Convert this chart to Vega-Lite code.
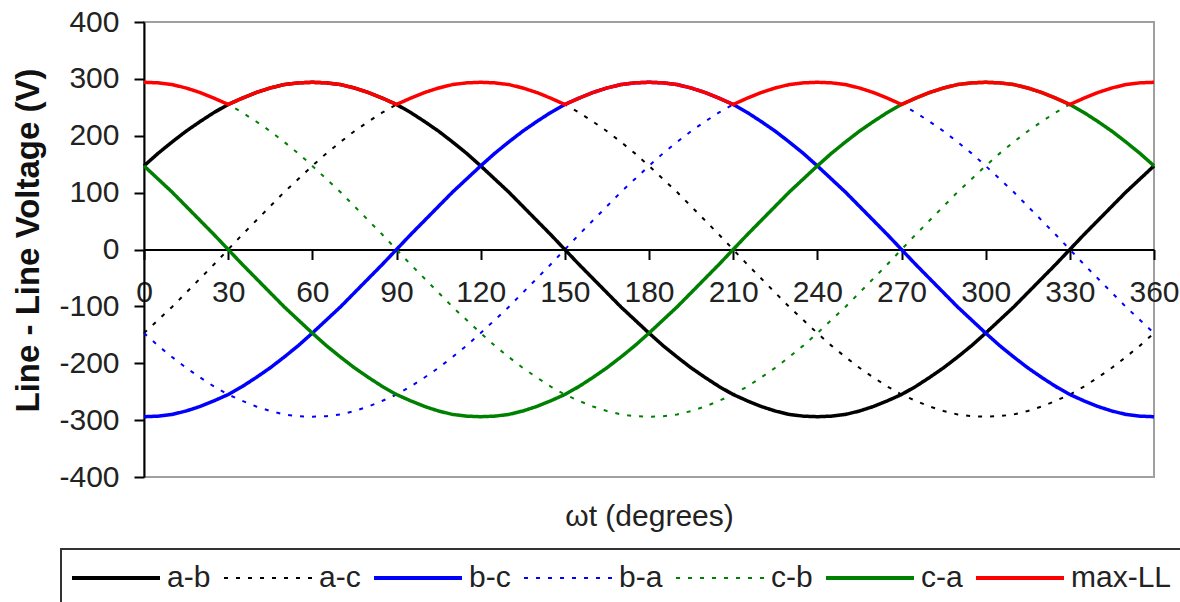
{
  "$schema": "https://vega.github.io/schema/vega-lite/v6.json",
  "width": 1010,
  "height": 455,
  "autosize": {"type": "none"},
  "padding": {"left": 144, "top": 22, "right": 26, "bottom": 125},
  "background": "white",
  "config": {
    "font": "Liberation Sans",
    "view": {"stroke": "#a0a0a0", "strokeWidth": 2}
  },
  "data": {
    "values": [
      {"s":"a-b","t":0,"v":147},{"s":"a-b","t":5,"v":169},{"s":"a-b","t":10,"v":189},{"s":"a-b","t":15,"v":208},{"s":"a-b","t":20,"v":225},{"s":"a-b","t":25,"v":241},{"s":"a-b","t":30,"v":255},{"s":"a-b","t":35,"v":266},{"s":"a-b","t":40,"v":276},{"s":"a-b","t":45,"v":284},{"s":"a-b","t":50,"v":290},{"s":"a-b","t":55,"v":293},{"s":"a-b","t":60,"v":294},{"s":"a-b","t":65,"v":293},{"s":"a-b","t":70,"v":290},{"s":"a-b","t":75,"v":284},{"s":"a-b","t":80,"v":276},{"s":"a-b","t":85,"v":266},{"s":"a-b","t":90,"v":255},{"s":"a-b","t":95,"v":241},{"s":"a-b","t":100,"v":225},{"s":"a-b","t":105,"v":208},{"s":"a-b","t":110,"v":189},{"s":"a-b","t":115,"v":169},{"s":"a-b","t":120,"v":147},{"s":"a-b","t":125,"v":124},{"s":"a-b","t":130,"v":101},{"s":"a-b","t":135,"v":76},{"s":"a-b","t":140,"v":51},{"s":"a-b","t":145,"v":26},{"s":"a-b","t":150,"v":0},{"s":"a-b","t":155,"v":-26},{"s":"a-b","t":160,"v":-51},{"s":"a-b","t":165,"v":-76},{"s":"a-b","t":170,"v":-101},{"s":"a-b","t":175,"v":-124},{"s":"a-b","t":180,"v":-147},{"s":"a-b","t":185,"v":-169},{"s":"a-b","t":190,"v":-189},{"s":"a-b","t":195,"v":-208},{"s":"a-b","t":200,"v":-225},{"s":"a-b","t":205,"v":-241},{"s":"a-b","t":210,"v":-255},{"s":"a-b","t":215,"v":-266},{"s":"a-b","t":220,"v":-276},{"s":"a-b","t":225,"v":-284},{"s":"a-b","t":230,"v":-290},{"s":"a-b","t":235,"v":-293},{"s":"a-b","t":240,"v":-294},{"s":"a-b","t":245,"v":-293},{"s":"a-b","t":250,"v":-290},{"s":"a-b","t":255,"v":-284},{"s":"a-b","t":260,"v":-276},{"s":"a-b","t":265,"v":-266},{"s":"a-b","t":270,"v":-255},{"s":"a-b","t":275,"v":-241},{"s":"a-b","t":280,"v":-225},{"s":"a-b","t":285,"v":-208},{"s":"a-b","t":290,"v":-189},{"s":"a-b","t":295,"v":-169},{"s":"a-b","t":300,"v":-147},{"s":"a-b","t":305,"v":-124},{"s":"a-b","t":310,"v":-101},{"s":"a-b","t":315,"v":-76},{"s":"a-b","t":320,"v":-51},{"s":"a-b","t":325,"v":-26},{"s":"a-b","t":330,"v":0},{"s":"a-b","t":335,"v":26},{"s":"a-b","t":340,"v":51},{"s":"a-b","t":345,"v":76},{"s":"a-b","t":350,"v":101},{"s":"a-b","t":355,"v":124},{"s":"a-b","t":360,"v":147},

      {"s":"a-c","t":0,"v":-147},{"s":"a-c","t":5,"v":-124},{"s":"a-c","t":10,"v":-101},{"s":"a-c","t":15,"v":-76},{"s":"a-c","t":20,"v":-51},{"s":"a-c","t":25,"v":-26},{"s":"a-c","t":30,"v":0},{"s":"a-c","t":35,"v":26},{"s":"a-c","t":40,"v":51},{"s":"a-c","t":45,"v":76},{"s":"a-c","t":50,"v":101},{"s":"a-c","t":55,"v":124},{"s":"a-c","t":60,"v":147},{"s":"a-c","t":65,"v":169},{"s":"a-c","t":70,"v":189},{"s":"a-c","t":75,"v":208},{"s":"a-c","t":80,"v":225},{"s":"a-c","t":85,"v":241},{"s":"a-c","t":90,"v":255},{"s":"a-c","t":95,"v":266},{"s":"a-c","t":100,"v":276},{"s":"a-c","t":105,"v":284},{"s":"a-c","t":110,"v":290},{"s":"a-c","t":115,"v":293},{"s":"a-c","t":120,"v":294},{"s":"a-c","t":125,"v":293},{"s":"a-c","t":130,"v":290},{"s":"a-c","t":135,"v":284},{"s":"a-c","t":140,"v":276},{"s":"a-c","t":145,"v":266},{"s":"a-c","t":150,"v":255},{"s":"a-c","t":155,"v":241},{"s":"a-c","t":160,"v":225},{"s":"a-c","t":165,"v":208},{"s":"a-c","t":170,"v":189},{"s":"a-c","t":175,"v":169},{"s":"a-c","t":180,"v":147},{"s":"a-c","t":185,"v":124},{"s":"a-c","t":190,"v":101},{"s":"a-c","t":195,"v":76},{"s":"a-c","t":200,"v":51},{"s":"a-c","t":205,"v":26},{"s":"a-c","t":210,"v":0},{"s":"a-c","t":215,"v":-26},{"s":"a-c","t":220,"v":-51},{"s":"a-c","t":225,"v":-76},{"s":"a-c","t":230,"v":-101},{"s":"a-c","t":235,"v":-124},{"s":"a-c","t":240,"v":-147},{"s":"a-c","t":245,"v":-169},{"s":"a-c","t":250,"v":-189},{"s":"a-c","t":255,"v":-208},{"s":"a-c","t":260,"v":-225},{"s":"a-c","t":265,"v":-241},{"s":"a-c","t":270,"v":-255},{"s":"a-c","t":275,"v":-266},{"s":"a-c","t":280,"v":-276},{"s":"a-c","t":285,"v":-284},{"s":"a-c","t":290,"v":-290},{"s":"a-c","t":295,"v":-293},{"s":"a-c","t":300,"v":-294},{"s":"a-c","t":305,"v":-293},{"s":"a-c","t":310,"v":-290},{"s":"a-c","t":315,"v":-284},{"s":"a-c","t":320,"v":-276},{"s":"a-c","t":325,"v":-266},{"s":"a-c","t":330,"v":-255},{"s":"a-c","t":335,"v":-241},{"s":"a-c","t":340,"v":-225},{"s":"a-c","t":345,"v":-208},{"s":"a-c","t":350,"v":-189},{"s":"a-c","t":355,"v":-169},{"s":"a-c","t":360,"v":-147},

      {"s":"b-c","t":0,"v":-294},{"s":"b-c","t":5,"v":-293},{"s":"b-c","t":10,"v":-290},{"s":"b-c","t":15,"v":-284},{"s":"b-c","t":20,"v":-276},{"s":"b-c","t":25,"v":-266},{"s":"b-c","t":30,"v":-255},{"s":"b-c","t":35,"v":-241},{"s":"b-c","t":40,"v":-225},{"s":"b-c","t":45,"v":-208},{"s":"b-c","t":50,"v":-189},{"s":"b-c","t":55,"v":-169},{"s":"b-c","t":60,"v":-147},{"s":"b-c","t":65,"v":-124},{"s":"b-c","t":70,"v":-101},{"s":"b-c","t":75,"v":-76},{"s":"b-c","t":80,"v":-51},{"s":"b-c","t":85,"v":-26},{"s":"b-c","t":90,"v":0},{"s":"b-c","t":95,"v":26},{"s":"b-c","t":100,"v":51},{"s":"b-c","t":105,"v":76},{"s":"b-c","t":110,"v":101},{"s":"b-c","t":115,"v":124},{"s":"b-c","t":120,"v":147},{"s":"b-c","t":125,"v":169},{"s":"b-c","t":130,"v":189},{"s":"b-c","t":135,"v":208},{"s":"b-c","t":140,"v":225},{"s":"b-c","t":145,"v":241},{"s":"b-c","t":150,"v":255},{"s":"b-c","t":155,"v":266},{"s":"b-c","t":160,"v":276},{"s":"b-c","t":165,"v":284},{"s":"b-c","t":170,"v":290},{"s":"b-c","t":175,"v":293},{"s":"b-c","t":180,"v":294},{"s":"b-c","t":185,"v":293},{"s":"b-c","t":190,"v":290},{"s":"b-c","t":195,"v":284},{"s":"b-c","t":200,"v":276},{"s":"b-c","t":205,"v":266},{"s":"b-c","t":210,"v":255},{"s":"b-c","t":215,"v":241},{"s":"b-c","t":220,"v":225},{"s":"b-c","t":225,"v":208},{"s":"b-c","t":230,"v":189},{"s":"b-c","t":235,"v":169},{"s":"b-c","t":240,"v":147},{"s":"b-c","t":245,"v":124},{"s":"b-c","t":250,"v":101},{"s":"b-c","t":255,"v":76},{"s":"b-c","t":260,"v":51},{"s":"b-c","t":265,"v":26},{"s":"b-c","t":270,"v":0},{"s":"b-c","t":275,"v":-26},{"s":"b-c","t":280,"v":-51},{"s":"b-c","t":285,"v":-76},{"s":"b-c","t":290,"v":-101},{"s":"b-c","t":295,"v":-124},{"s":"b-c","t":300,"v":-147},{"s":"b-c","t":305,"v":-169},{"s":"b-c","t":310,"v":-189},{"s":"b-c","t":315,"v":-208},{"s":"b-c","t":320,"v":-225},{"s":"b-c","t":325,"v":-241},{"s":"b-c","t":330,"v":-255},{"s":"b-c","t":335,"v":-266},{"s":"b-c","t":340,"v":-276},{"s":"b-c","t":345,"v":-284},{"s":"b-c","t":350,"v":-290},{"s":"b-c","t":355,"v":-293},{"s":"b-c","t":360,"v":-294},

      {"s":"b-a","t":0,"v":-147},{"s":"b-a","t":5,"v":-169},{"s":"b-a","t":10,"v":-189},{"s":"b-a","t":15,"v":-208},{"s":"b-a","t":20,"v":-225},{"s":"b-a","t":25,"v":-241},{"s":"b-a","t":30,"v":-255},{"s":"b-a","t":35,"v":-266},{"s":"b-a","t":40,"v":-276},{"s":"b-a","t":45,"v":-284},{"s":"b-a","t":50,"v":-290},{"s":"b-a","t":55,"v":-293},{"s":"b-a","t":60,"v":-294},{"s":"b-a","t":65,"v":-293},{"s":"b-a","t":70,"v":-290},{"s":"b-a","t":75,"v":-284},{"s":"b-a","t":80,"v":-276},{"s":"b-a","t":85,"v":-266},{"s":"b-a","t":90,"v":-255},{"s":"b-a","t":95,"v":-241},{"s":"b-a","t":100,"v":-225},{"s":"b-a","t":105,"v":-208},{"s":"b-a","t":110,"v":-189},{"s":"b-a","t":115,"v":-169},{"s":"b-a","t":120,"v":-147},{"s":"b-a","t":125,"v":-124},{"s":"b-a","t":130,"v":-101},{"s":"b-a","t":135,"v":-76},{"s":"b-a","t":140,"v":-51},{"s":"b-a","t":145,"v":-26},{"s":"b-a","t":150,"v":0},{"s":"b-a","t":155,"v":26},{"s":"b-a","t":160,"v":51},{"s":"b-a","t":165,"v":76},{"s":"b-a","t":170,"v":101},{"s":"b-a","t":175,"v":124},{"s":"b-a","t":180,"v":147},{"s":"b-a","t":185,"v":169},{"s":"b-a","t":190,"v":189},{"s":"b-a","t":195,"v":208},{"s":"b-a","t":200,"v":225},{"s":"b-a","t":205,"v":241},{"s":"b-a","t":210,"v":255},{"s":"b-a","t":215,"v":266},{"s":"b-a","t":220,"v":276},{"s":"b-a","t":225,"v":284},{"s":"b-a","t":230,"v":290},{"s":"b-a","t":235,"v":293},{"s":"b-a","t":240,"v":294},{"s":"b-a","t":245,"v":293},{"s":"b-a","t":250,"v":290},{"s":"b-a","t":255,"v":284},{"s":"b-a","t":260,"v":276},{"s":"b-a","t":265,"v":266},{"s":"b-a","t":270,"v":255},{"s":"b-a","t":275,"v":241},{"s":"b-a","t":280,"v":225},{"s":"b-a","t":285,"v":208},{"s":"b-a","t":290,"v":189},{"s":"b-a","t":295,"v":169},{"s":"b-a","t":300,"v":147},{"s":"b-a","t":305,"v":124},{"s":"b-a","t":310,"v":101},{"s":"b-a","t":315,"v":76},{"s":"b-a","t":320,"v":51},{"s":"b-a","t":325,"v":26},{"s":"b-a","t":330,"v":0},{"s":"b-a","t":335,"v":-26},{"s":"b-a","t":340,"v":-51},{"s":"b-a","t":345,"v":-76},{"s":"b-a","t":350,"v":-101},{"s":"b-a","t":355,"v":-124},{"s":"b-a","t":360,"v":-147},

      {"s":"c-b","t":0,"v":294},{"s":"c-b","t":5,"v":293},{"s":"c-b","t":10,"v":290},{"s":"c-b","t":15,"v":284},{"s":"c-b","t":20,"v":276},{"s":"c-b","t":25,"v":266},{"s":"c-b","t":30,"v":255},{"s":"c-b","t":35,"v":241},{"s":"c-b","t":40,"v":225},{"s":"c-b","t":45,"v":208},{"s":"c-b","t":50,"v":189},{"s":"c-b","t":55,"v":169},{"s":"c-b","t":60,"v":147},{"s":"c-b","t":65,"v":124},{"s":"c-b","t":70,"v":101},{"s":"c-b","t":75,"v":76},{"s":"c-b","t":80,"v":51},{"s":"c-b","t":85,"v":26},{"s":"c-b","t":90,"v":0},{"s":"c-b","t":95,"v":-26},{"s":"c-b","t":100,"v":-51},{"s":"c-b","t":105,"v":-76},{"s":"c-b","t":110,"v":-101},{"s":"c-b","t":115,"v":-124},{"s":"c-b","t":120,"v":-147},{"s":"c-b","t":125,"v":-169},{"s":"c-b","t":130,"v":-189},{"s":"c-b","t":135,"v":-208},{"s":"c-b","t":140,"v":-225},{"s":"c-b","t":145,"v":-241},{"s":"c-b","t":150,"v":-255},{"s":"c-b","t":155,"v":-266},{"s":"c-b","t":160,"v":-276},{"s":"c-b","t":165,"v":-284},{"s":"c-b","t":170,"v":-290},{"s":"c-b","t":175,"v":-293},{"s":"c-b","t":180,"v":-294},{"s":"c-b","t":185,"v":-293},{"s":"c-b","t":190,"v":-290},{"s":"c-b","t":195,"v":-284},{"s":"c-b","t":200,"v":-276},{"s":"c-b","t":205,"v":-266},{"s":"c-b","t":210,"v":-255},{"s":"c-b","t":215,"v":-241},{"s":"c-b","t":220,"v":-225},{"s":"c-b","t":225,"v":-208},{"s":"c-b","t":230,"v":-189},{"s":"c-b","t":235,"v":-169},{"s":"c-b","t":240,"v":-147},{"s":"c-b","t":245,"v":-124},{"s":"c-b","t":250,"v":-101},{"s":"c-b","t":255,"v":-76},{"s":"c-b","t":260,"v":-51},{"s":"c-b","t":265,"v":-26},{"s":"c-b","t":270,"v":0},{"s":"c-b","t":275,"v":26},{"s":"c-b","t":280,"v":51},{"s":"c-b","t":285,"v":76},{"s":"c-b","t":290,"v":101},{"s":"c-b","t":295,"v":124},{"s":"c-b","t":300,"v":147},{"s":"c-b","t":305,"v":169},{"s":"c-b","t":310,"v":189},{"s":"c-b","t":315,"v":208},{"s":"c-b","t":320,"v":225},{"s":"c-b","t":325,"v":241},{"s":"c-b","t":330,"v":255},{"s":"c-b","t":335,"v":266},{"s":"c-b","t":340,"v":276},{"s":"c-b","t":345,"v":284},{"s":"c-b","t":350,"v":290},{"s":"c-b","t":355,"v":293},{"s":"c-b","t":360,"v":294},

      {"s":"c-a","t":0,"v":147},{"s":"c-a","t":5,"v":124},{"s":"c-a","t":10,"v":101},{"s":"c-a","t":15,"v":76},{"s":"c-a","t":20,"v":51},{"s":"c-a","t":25,"v":26},{"s":"c-a","t":30,"v":0},{"s":"c-a","t":35,"v":-26},{"s":"c-a","t":40,"v":-51},{"s":"c-a","t":45,"v":-76},{"s":"c-a","t":50,"v":-101},{"s":"c-a","t":55,"v":-124},{"s":"c-a","t":60,"v":-147},{"s":"c-a","t":65,"v":-169},{"s":"c-a","t":70,"v":-189},{"s":"c-a","t":75,"v":-208},{"s":"c-a","t":80,"v":-225},{"s":"c-a","t":85,"v":-241},{"s":"c-a","t":90,"v":-255},{"s":"c-a","t":95,"v":-266},{"s":"c-a","t":100,"v":-276},{"s":"c-a","t":105,"v":-284},{"s":"c-a","t":110,"v":-290},{"s":"c-a","t":115,"v":-293},{"s":"c-a","t":120,"v":-294},{"s":"c-a","t":125,"v":-293},{"s":"c-a","t":130,"v":-290},{"s":"c-a","t":135,"v":-284},{"s":"c-a","t":140,"v":-276},{"s":"c-a","t":145,"v":-266},{"s":"c-a","t":150,"v":-255},{"s":"c-a","t":155,"v":-241},{"s":"c-a","t":160,"v":-225},{"s":"c-a","t":165,"v":-208},{"s":"c-a","t":170,"v":-189},{"s":"c-a","t":175,"v":-169},{"s":"c-a","t":180,"v":-147},{"s":"c-a","t":185,"v":-124},{"s":"c-a","t":190,"v":-101},{"s":"c-a","t":195,"v":-76},{"s":"c-a","t":200,"v":-51},{"s":"c-a","t":205,"v":-26},{"s":"c-a","t":210,"v":0},{"s":"c-a","t":215,"v":26},{"s":"c-a","t":220,"v":51},{"s":"c-a","t":225,"v":76},{"s":"c-a","t":230,"v":101},{"s":"c-a","t":235,"v":124},{"s":"c-a","t":240,"v":147},{"s":"c-a","t":245,"v":169},{"s":"c-a","t":250,"v":189},{"s":"c-a","t":255,"v":208},{"s":"c-a","t":260,"v":225},{"s":"c-a","t":265,"v":241},{"s":"c-a","t":270,"v":255},{"s":"c-a","t":275,"v":266},{"s":"c-a","t":280,"v":276},{"s":"c-a","t":285,"v":284},{"s":"c-a","t":290,"v":290},{"s":"c-a","t":295,"v":293},{"s":"c-a","t":300,"v":294},{"s":"c-a","t":305,"v":293},{"s":"c-a","t":310,"v":290},{"s":"c-a","t":315,"v":284},{"s":"c-a","t":320,"v":276},{"s":"c-a","t":325,"v":266},{"s":"c-a","t":330,"v":255},{"s":"c-a","t":335,"v":241},{"s":"c-a","t":340,"v":225},{"s":"c-a","t":345,"v":208},{"s":"c-a","t":350,"v":189},{"s":"c-a","t":355,"v":169},{"s":"c-a","t":360,"v":147},

      {"s":"max-LL","t":0,"v":294},{"s":"max-LL","t":5,"v":293},{"s":"max-LL","t":10,"v":290},{"s":"max-LL","t":15,"v":284},{"s":"max-LL","t":20,"v":276},{"s":"max-LL","t":25,"v":266},{"s":"max-LL","t":30,"v":255},{"s":"max-LL","t":35,"v":266},{"s":"max-LL","t":40,"v":276},{"s":"max-LL","t":45,"v":284},{"s":"max-LL","t":50,"v":290},{"s":"max-LL","t":55,"v":293},{"s":"max-LL","t":60,"v":294},{"s":"max-LL","t":65,"v":293},{"s":"max-LL","t":70,"v":290},{"s":"max-LL","t":75,"v":284},{"s":"max-LL","t":80,"v":276},{"s":"max-LL","t":85,"v":266},{"s":"max-LL","t":90,"v":255},{"s":"max-LL","t":95,"v":266},{"s":"max-LL","t":100,"v":276},{"s":"max-LL","t":105,"v":284},{"s":"max-LL","t":110,"v":290},{"s":"max-LL","t":115,"v":293},{"s":"max-LL","t":120,"v":294},{"s":"max-LL","t":125,"v":293},{"s":"max-LL","t":130,"v":290},{"s":"max-LL","t":135,"v":284},{"s":"max-LL","t":140,"v":276},{"s":"max-LL","t":145,"v":266},{"s":"max-LL","t":150,"v":255},{"s":"max-LL","t":155,"v":266},{"s":"max-LL","t":160,"v":276},{"s":"max-LL","t":165,"v":284},{"s":"max-LL","t":170,"v":290},{"s":"max-LL","t":175,"v":293},{"s":"max-LL","t":180,"v":294},{"s":"max-LL","t":185,"v":293},{"s":"max-LL","t":190,"v":290},{"s":"max-LL","t":195,"v":284},{"s":"max-LL","t":200,"v":276},{"s":"max-LL","t":205,"v":266},{"s":"max-LL","t":210,"v":255},{"s":"max-LL","t":215,"v":266},{"s":"max-LL","t":220,"v":276},{"s":"max-LL","t":225,"v":284},{"s":"max-LL","t":230,"v":290},{"s":"max-LL","t":235,"v":293},{"s":"max-LL","t":240,"v":294},{"s":"max-LL","t":245,"v":293},{"s":"max-LL","t":250,"v":290},{"s":"max-LL","t":255,"v":284},{"s":"max-LL","t":260,"v":276},{"s":"max-LL","t":265,"v":266},{"s":"max-LL","t":270,"v":255},{"s":"max-LL","t":275,"v":266},{"s":"max-LL","t":280,"v":276},{"s":"max-LL","t":285,"v":284},{"s":"max-LL","t":290,"v":290},{"s":"max-LL","t":295,"v":293},{"s":"max-LL","t":300,"v":294},{"s":"max-LL","t":305,"v":293},{"s":"max-LL","t":310,"v":290},{"s":"max-LL","t":315,"v":284},{"s":"max-LL","t":320,"v":276},{"s":"max-LL","t":325,"v":266},{"s":"max-LL","t":330,"v":255},{"s":"max-LL","t":335,"v":266},{"s":"max-LL","t":340,"v":276},{"s":"max-LL","t":345,"v":284},{"s":"max-LL","t":350,"v":290},{"s":"max-LL","t":355,"v":293},{"s":"max-LL","t":360,"v":294}
    ]
  },
  "encoding": {
    "x": {
      "field": "t",
      "type": "quantitative",
      "scale": {"domain": [0, 360], "nice": false, "zero": false},
      "axis": {
        "title": "ωt (degrees)",
        "values": [0, 30, 60, 90, 120, 150, 180, 210, 240, 270, 300, 330, 360],
        "offset": -227.5,
        "grid": false,
        "domainColor": "#000000",
        "domainWidth": 2,
        "tickColor": "#000000",
        "tickSize": 10,
        "tickWidth": 2,
        "labelFontSize": 30,
        "labelColor": "#222222",
        "labelPadding": 18,
        "labelFlush": false,
        "labelOverlap": false,
        "titleFontSize": 30,
        "titleFontWeight": "normal",
        "titleColor": "#222222",
        "titleX": 505,
        "titleY": 266.5,
        "titleBaseline": "middle",
        "titleAlign": "center"
      }
    },
    "y": {
      "field": "v",
      "type": "quantitative",
      "scale": {"domain": [-400, 400], "nice": false},
      "axis": {
        "title": "Line - Line Voltage (V)",
        "values": [-400, -300, -200, -100, 0, 100, 200, 300, 400],
        "labelExpr": "'' + datum.value",
        "grid": false,
        "domainColor": "#000000",
        "domainWidth": 2,
        "tickColor": "#000000",
        "tickSize": 10,
        "tickWidth": 2,
        "labelFontSize": 30,
        "labelColor": "#222222",
        "labelPadding": 15,
        "labelFlush": false,
        "labelOverlap": false,
        "titleFontSize": 33,
        "titleFontWeight": "bold",
        "titleColor": "#111111",
        "titleX": -116,
        "titleY": 218,
        "titleBaseline": "middle",
        "titleAlign": "center"
      }
    },
    "color": {
      "field": "s",
      "type": "nominal",
      "scale": {
        "domain": ["a-b", "a-c", "b-c", "b-a", "c-b", "c-a", "max-LL"],
        "range": ["#000000", "#000000", "#0000ff", "#0000ff", "#008000", "#008000", "#ff0000"]
      },
      "legend": {
        "title": null,
        "orient": "none",
        "legendX": -83,
        "legendY": 527,
        "direction": "horizontal",
        "strokeColor": "#333333",
        "padding": 9,
        "clipHeight": 40,
        "symbolType": "stroke",
        "symbolSize": 7744,
        "symbolStrokeWidth": 4,
        "labelFontSize": 30,
        "labelColor": "#222222",
        "labelOffset": 5,
        "labelLimit": 0,
        "columnPadding": 11,
        "encode": {
          "legend": {
            "update": {"strokeWidth": {"value": 2}}
          },
          "symbols": {
            "update": {
              "strokeWidth": {"signal": "(indexof(['a-c','b-a','c-b'], datum.value) >= 0 ? 2 : 4)"}
            }
          }
        }
      }
    },
    "strokeDash": {
      "field": "s",
      "type": "nominal",
      "scale": {
        "domain": ["a-b", "a-c", "b-c", "b-a", "c-b", "c-a", "max-LL"],
        "range": [[1, 0], [4, 8], [1, 0], [4, 8], [4, 8], [1, 0], [1, 0]]
      },
      "legend": {"title": null}
    }
  },
  "layer": [
    {
      "transform": [{"filter": {"field": "s", "oneOf": ["a-c", "b-a", "c-b"]}}],
      "mark": {"type": "line", "strokeWidth": 2}
    },
    {
      "transform": [{"filter": {"field": "s", "oneOf": ["a-b", "b-c", "c-a"]}}],
      "mark": {"type": "line", "strokeWidth": 3.5}
    },
    {
      "transform": [{"filter": {"field": "s", "equal": "max-LL"}}],
      "mark": {"type": "line", "strokeWidth": 3.5}
    }
  ]
}
